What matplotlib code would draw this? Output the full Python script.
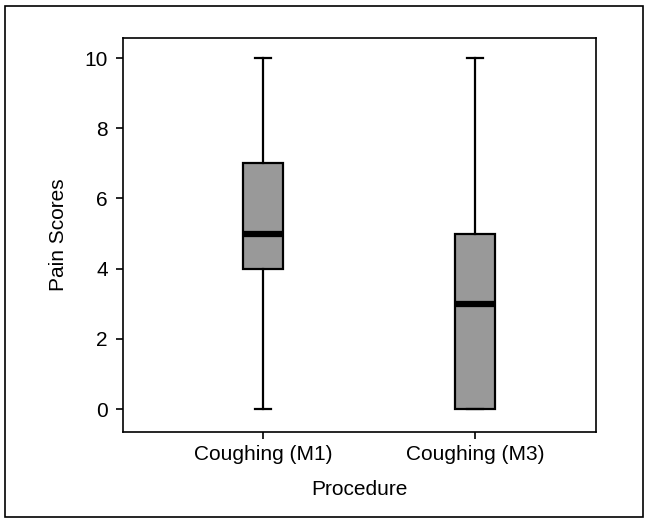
import matplotlib
matplotlib.use("Agg")
import matplotlib.pyplot as plt
from matplotlib.patches import Rectangle

categories = ["Coughing (M1)", "Coughing (M3)"]
whislo = [0, 0]
q1 = [4, 0]
med = [5, 3]
q3 = [7, 5]
whishi = [10, 10]
yticks = [0, 2, 4, 6, 8, 10]

plt.rcParams['font.family'] = ['Liberation Sans', 'DejaVu Sans']

fig = plt.figure(figsize=(6.48, 5.23), dpi=100)
ax = fig.add_axes([123/648, 1 - 432/523, (596-123)/648, (432-38)/523])

stats = []
for i, c in enumerate(categories):
    stats.append(dict(label=c, whislo=whislo[i], q1=q1[i], med=med[i], q3=q3[i], whishi=whishi[i], fliers=[]))

ax.bxp(stats, positions=[1, 2], widths=0.19, patch_artist=True, showfliers=False,
       boxprops=dict(facecolor='#999999', edgecolor='black', linewidth=1.6),
       medianprops=dict(color='black', linewidth=4.5, solid_capstyle='butt'),
       whiskerprops=dict(color='black', linewidth=1.6),
       capprops=dict(color='black', linewidth=1.6), capwidths=0.075)

ax.set_xlim(0.34, 2.57)
ax.set_ylim(-0.655, 10.57)
ax.set_yticks(yticks)
ax.set_yticklabels([str(v) for v in yticks])
ax.set_xticks([1, 2])
ax.set_xticklabels(categories)
ax.tick_params(labelsize=15, width=1.2, length=5, color='black')
ax.tick_params(axis='y', pad=6)
ax.tick_params(axis='x', pad=4)
ax.set_xlabel("Procedure", fontsize=15, labelpad=12)
ax.set_ylabel("Pain Scores", fontsize=15, labelpad=12)
for s in ax.spines.values():
    s.set_linewidth(1.2)

fig.patches.append(Rectangle((5/648, 6/523), (643-5)/648, (517-6)/523, transform=fig.transFigure,
                             fill=False, edgecolor='black', linewidth=1.2))

fig.savefig("out.png", dpi=100)
